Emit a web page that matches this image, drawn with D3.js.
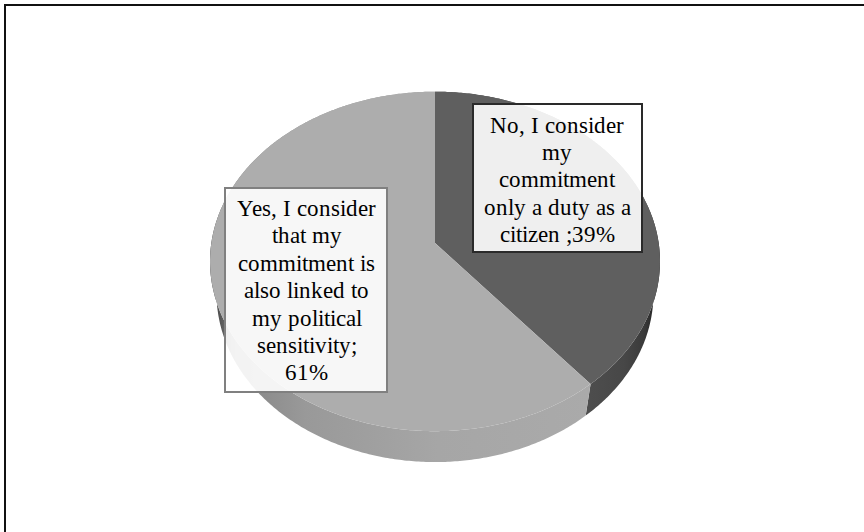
<!DOCTYPE html>
<html>
<head>
<meta charset="utf-8">
<script src="https://cdn.jsdelivr.net/npm/d3@7"></script>
<style>
  @font-face {
    font-family: "LabelSerif";
    src: local("Liberation Serif"), local("LiberationSerif"), local("LiberationSerif-Regular"),
         local("Times New Roman"), local("DejaVu Serif"), local("DejaVuSerif");
  }
  html, body { margin: 0; padding: 0; background: #fff; }
  svg { display: block; }
  .lbl { font-family: "LabelSerif", "Liberation Serif", "Times New Roman", "DejaVu Serif", serif; font-size: 23.3px; }
</style>
</head>
<body>
<svg id="chart" width="864" height="532"></svg>
<script>
// Survey answers, in clockwise order from 12 o'clock
const categories = [
  "No, I consider my commitment only a duty as a citizen",
  "Yes, I consider that my commitment is also linked to my political sensitivity"
];
const values = [39, 61];
// Wrapped label text; the percentage is appended from values
const labelLines = [
  ["No, I consider", "my", "commitment", "only a duty as a", "citizen ;{v}%"],
  ["Yes, I consider", "that my", "commitment is", "also linked to", "my political", "sensitivity;", "{v}%"]
];
const topColors = ["#5f5f5f", "#adadad"];

const width = 864, height = 532;
const svg = d3.select("#chart");

// Frame
svg.append("path")
  .attr("d", "M5,532 V5 H864")
  .attr("fill", "none")
  .attr("stroke", "#111")
  .attr("stroke-width", 2);

// ---- 3D tilted pie with perspective ----
const cx = 435, cyTop = 243;       // screen position of top-face centre
const tilt = 50 * Math.PI / 180;   // elevation of the viewer
const dist0 = 6.1;                 // camera distance (in radii)
const thick = 0.23;                // pie thickness (in radii)
const halfWidth = 225;             // screen half width of the top face

const sa = Math.sin(tilt), ca = Math.cos(tilt);
function raw(theta, H) {
  const X = Math.sin(theta), Z = -Math.cos(theta);
  const d = dist0 - H * sa - Z * ca;
  return [X / d, (H * ca - Z * sa) / d];
}
let maxX = 0;
for (let i = 0; i <= 720; i++) maxX = Math.max(maxX, raw(i / 720 * 2 * Math.PI, thick)[0]);
const F = halfWidth / maxX;
const centreUp = F * (thick * ca) / (dist0 - thick * sa);
const cy0 = cyTop + centreUp;
function proj(theta, H) {
  const [u, v] = raw(theta, H);
  return [cx + F * u, cy0 - F * v];
}

const pie = d3.pie().sort(null).startAngle(0).endAngle(2 * Math.PI);
const arcs = pie(values);

const line = d3.line().curve(d3.curveLinearClosed);
function arcPoints(a0, a1, H) {
  const n = Math.max(2, Math.ceil((a1 - a0) / 0.01));
  return d3.range(n + 1).map(i => proj(a0 + (a1 - a0) * i / n, H));
}

// Wall gradients
const defs = svg.append("defs");
const wallStops = [
  [[0, "#4f4f4f"], [0.55, "#474747"], [0.8, "#3a3a3a"], [1, "#1c1c1c"]],
  [[0, "#262626"], [0.025, "#555"], [0.07, "#858585"], [0.25, "#999"], [0.6, "#a6a6a6"], [1, "#aaaaaa"]]
];
wallStops.forEach((stops, i) => {
  const g = defs.append("linearGradient")
    .attr("id", "wall" + i)
    .attr("gradientUnits", "userSpaceOnUse")
    .attr("x1", i === 0 ? 580 : cx - halfWidth)
    .attr("x2", i === 0 ? cx + halfWidth : 590)
    .attr("y1", 0).attr("y2", 0);
  stops.forEach(([o, c]) => g.append("stop").attr("offset", o).attr("stop-color", c));
});

// Outer walls, then top faces
const pieG = svg.append("g");
pieG.selectAll("path.wall")
  .data(arcs)
  .join("path")
  .attr("class", "wall")
  .attr("d", d => {
    const top = arcPoints(d.startAngle, d.endAngle, thick);
    const bottom = arcPoints(d.startAngle, d.endAngle, 0).reverse();
    return line(top.concat(bottom));
  })
  .attr("fill", (d, i) => `url(#wall${i})`);

pieG.selectAll("path.top")
  .data(arcs)
  .join("path")
  .attr("class", "top")
  .attr("d", d => line([[cx, cyTop]].concat(arcPoints(d.startAngle, d.endAngle, thick))))
  .attr("fill", (d, i) => topColors[i]);

// ---- Data labels ----
const labelBoxes = [
  { x: 473, y: 104, w: 169, h: 148, cx: 557.3, y0: 132.5, stroke: "#2a2a2a" },
  { x: 225, y: 188, w: 162, h: 204, cx: 306.5, y0: 216, stroke: "#808080" }
];
const lineH = 27.4;
const labelG = svg.append("g");
arcs.forEach((d, i) => {
  const b = labelBoxes[i];
  labelG.append("rect")
    .attr("x", b.x).attr("y", b.y).attr("width", b.w).attr("height", b.h)
    .attr("fill", "#fff").attr("fill-opacity", 0.9)
    .attr("stroke", b.stroke).attr("stroke-width", 2);
  const t = labelG.append("text")
    .attr("class", "lbl")
    .attr("fill", "#000")
    .attr("text-anchor", "middle");
  labelLines[i].forEach((s, k) => {
    t.append("tspan")
      .attr("x", b.cx)
      .attr("y", b.y0 + k * lineH)
      .text(s.replace("{v}", values[i]));
  });
});
</script>
</body>
</html>
